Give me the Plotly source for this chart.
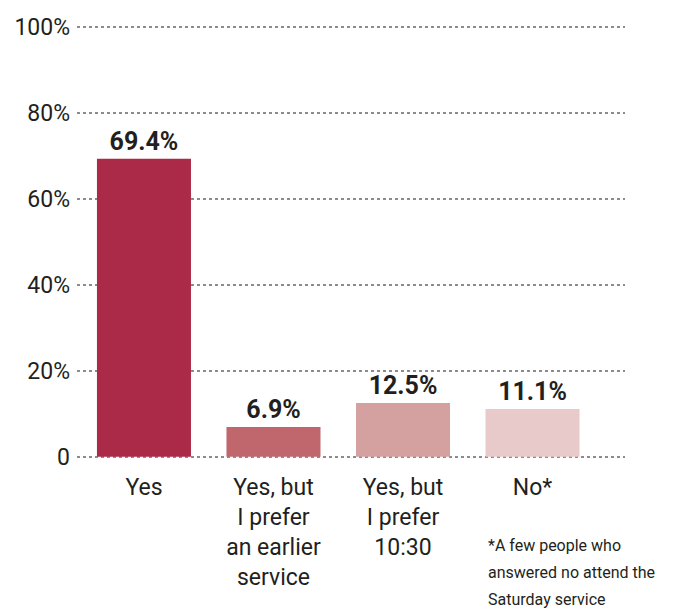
import plotly.graph_objects as go

categories = ["Yes", "Yes, but<br>I prefer<br>an earlier<br>service", "Yes, but<br>I prefer<br>10:30", "No*"]
values = [69.4, 6.9, 12.5, 11.1]
value_labels = ["69.4%", "6.9%", "12.5%", "11.1%"]
colors = ["#AB2A48", "#C0676E", "#D4A0A0", "#E8CACA"]
tick_vals = [0, 20, 40, 60, 80, 100]
tick_text = ["0", "20%", "40%", "60%", "80%", "100%"]
footnote_lines = ["*A few people who", "answered no attend the", "Saturday service"]

FONT = "Roboto, DejaVu Sans, sans-serif"
INK = "#231f20"

fig = go.Figure(go.Bar(
    x=list(range(len(categories))),
    y=values,
    marker=dict(color=colors, line=dict(width=0)),
    text=value_labels,
    textposition="outside",
    textfont=dict(family=FONT, size=25, color=INK, weight="bold"),
    cliponaxis=False,
))

# page has an 8px body margin, so the figure is drawn 8px smaller
W, H = 670, 604
ML, MR, MT, MB = 69, 53, 15, 151

annotations = []
for i, line in enumerate(footnote_lines):
    annotations.append(dict(
        text=line, xref="paper", yref="paper",
        x=(478 - ML) / (W - ML - MR),
        y=-(537 + 27 * i - (H - MB)) / (H - MT - MB),
        xanchor="left", yanchor="middle",
        align="left", showarrow=False,
        font=dict(family=FONT, size=16, color=INK),
    ))

fig.update_layout(
    width=W, height=H,
    margin=dict(l=ML, r=MR, t=MT, b=MB, autoexpand=False),
    paper_bgcolor="white", plot_bgcolor="white",
    bargap=0.274,
    showlegend=False,
    font=dict(family=FONT, color=INK),
    xaxis=dict(
        range=[-0.517, 3.714],
        tickvals=list(range(len(categories))),
        ticktext=categories,
        tickfont=dict(family=FONT, size=23, color=INK),
        showgrid=False, zeroline=False, showline=False, ticks="",
        ticklabelstandoff=10, automargin=False,
    ),
    yaxis=dict(
        range=[-1, 101],
        tickvals=tick_vals,
        ticktext=tick_text,
        tickfont=dict(family=FONT, size=23, color=INK),
        showgrid=True, gridcolor="#8c8c8c", gridwidth=2, griddash="dot",
        zeroline=False, showline=False, ticks="",
        ticklabelstandoff=6, automargin=False,
    ),
    annotations=annotations,
)

fig.write_html("out.html")
